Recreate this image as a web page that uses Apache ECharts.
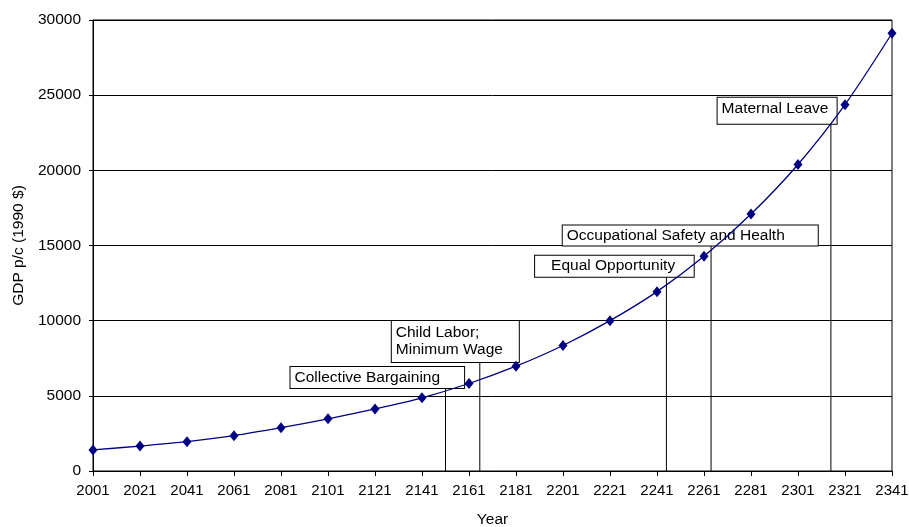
<!DOCTYPE html>
<html>
<head>
<meta charset="utf-8">
<script src="https://cdn.jsdelivr.net/npm/echarts@6/dist/echarts.min.js"></script>
<style>
html,body{margin:0;padding:0;background:#fff;}
#c{width:909px;height:527px;}
</style>
</head>
<body>
<div id="c"></div>
<script>
// ---- data ----
const years = [2001,2021,2041,2061,2081,2101,2121,2141,2161,2181,2201,2221,2241,2261,2281,2301,2321,2341];
const gdp = [1400,1660,1950,2350,2880,3470,4130,4870,5820,6970,8350,10000,11930,14280,17090,20390,24370,29120];
const eventNames = ['Collective Bargaining','Child Labor;\nMinimum Wage','Equal Opportunity','Occupational Safety and Health','Maternal Leave'];
const eventYears = [2151,2165.6,2245,2264,2315];
const eventLineTops = [5580,7320,12990,15070,23170];
const yTicks = [0,5000,10000,15000,20000,25000,30000];

// ---- layout / style (not data) ----
const BASE = 2001;
const FONT = 'Liberation Sans, Arial, sans-serif';
const boxStyles = [
  {dx:-155,  w:173.6, pad:[2,0,2,4]},
  {dx:-88,   w:127,   pad:[3,0,4,4]},
  {dx:-131.3,w:158.6, pad:[2,0,2,16]},
  {dx:-148.3,w:255,   pad:[1.5,0,1.5,4]},
  {dx:-113.3,w:119,   pad:[3,0,6,4]}
];

const series = [];
series.push({
  type:'line',
  data: years.map((y,i)=>[y-BASE, gdp[i]]),
  smooth:0.3,
  symbol:'diamond',
  symbolSize:[9,11],
  itemStyle:{color:'#000080'},
  lineStyle:{color:'#000080',width:1.3},
  z:5
});
eventYears.forEach((ey,i)=>{
  series.push({
    type:'line',
    data:[[ey-BASE,0],[ey-BASE,eventLineTops[i]]],
    symbol:'none',
    lineStyle:{color:'#000',width:1},
    z:3,
    silent:true
  });
});
series.push({
  type:'scatter',
  symbolSize:0,
  itemStyle:{color:'#000',opacity:1},
  silent:true,
  z:4,
  data: eventYears.map((ey,i)=>{
    const s = boxStyles[i];
    return {
      value:[ey-BASE, eventLineTops[i]],
      label:{
        show:true,
        formatter: eventNames[i],
        position:'top',
        distance:0,
        align:'left',
        verticalAlign:'bottom',
        offset:[s.dx,1],
        width: s.w - s.pad[1] - s.pad[3],
        padding:s.pad,
        fontFamily:FONT,
        fontSize:15.5,
        lineHeight:17,
        color:'#000',
        opacity:1,
        backgroundColor:'#fff',
        borderColor:'#000',
        borderWidth:1
      }
    };
  })
});

const chart = echarts.init(document.getElementById('c'));
chart.setOption({
  animation:false,
  backgroundColor:'#fff',
  grid:{left:93,right:17,top:20,bottom:56,containLabel:false,outerBoundsMode:'none',show:true,borderColor:'#000',borderWidth:1,backgroundColor:'transparent'},
  xAxis:{
    type:'value',
    min:0, max:years[years.length-1]-BASE, interval:20,
    name:'Year', nameLocation:'middle', nameGap:41,
    nameTextStyle:{fontFamily:FONT,fontSize:15.5,color:'#000'},
    axisLine:{lineStyle:{color:'#000',width:1}},
    axisTick:{show:true,length:5,lineStyle:{color:'#000'}},
    axisLabel:{formatter:v=>String(v+BASE),fontFamily:FONT,fontSize:15,color:'#000',margin:12},
    splitLine:{show:false}
  },
  yAxis:{
    type:'value',
    min:yTicks[0], max:yTicks[yTicks.length-1], interval:5000,
    name:'GDP p/c (1990 $)', nameLocation:'middle', nameGap:65, nameRotate:90,
    nameTextStyle:{fontFamily:FONT,fontSize:15.5,color:'#000'},
    axisLine:{show:true,lineStyle:{color:'#000',width:1}},
    axisTick:{show:true,length:4,lineStyle:{color:'#000'}},
    axisLabel:{formatter:v=>String(v),fontFamily:FONT,fontSize:15.5,color:'#000',margin:12},
    splitLine:{show:true,lineStyle:{color:'#000',width:1}}
  },
  series:series
});
</script>
</body>
</html>
